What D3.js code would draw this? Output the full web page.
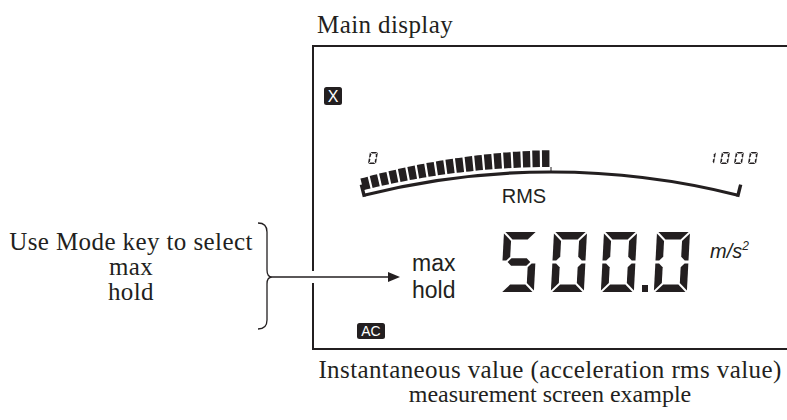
<!DOCTYPE html>
<html>
<head>
<meta charset="utf-8">
<script src="https://cdn.jsdelivr.net/npm/d3@7"></script>
<style>
  body { margin: 0; background: #fff; }
  .serif { font-family: "Liberation Serif", "Times New Roman", serif; fill: #231f20; }
  .sans { font-family: "Liberation Sans", Arial, sans-serif; fill: #231f20; }
</style>
</head>
<body>
<div id="chart"></div>
<script>
"use strict";

// values shown on the display
var barValue = 500;
var barDomain = [0, 1000];
var barStep = 25;                  // one lit segment per 25 units
var scaleLabels = ["0", "1000"];
var reading = "500.0";
var unitText = "m/s";
var unitPower = "2";
var modeLines = ["max", "hold"];
var noteLines = ["Use Mode key to select", "max", "hold"];
var captionLines = ["Instantaneous value (acceleration rms value)", "measurement screen example"];
var titleText = "Main display";
var badgeLabels = ["X", "AC"];

var width = 787,
    height = 420,
    ink = "#231f20";

var svg = d3.select("#chart")
            .append("svg")
            .attr("width", width)
            .attr("height", height)

// seven segment helpers
var segMap = {"0": "abcdef", "1": "bc", "2": "abged", "3": "abgcd", "4": "fgbc",
              "5": "afgcd", "6": "afgedc", "7": "abc", "8": "abcdefg", "9": "abcdfg"}

function segPoints(s, w, h, t, g) {
  var m = h / 2, p
  if (s == "a") p = [[g, 0], [w - g, 0], [w - g - t, t], [g + t, t]]
  if (s == "d") p = [[g + t, h - t], [w - g - t, h - t], [w - g, h], [g, h]]
  if (s == "g") p = [[t / 2 + g, m], [t + g, m - t / 2], [w - t - g, m - t / 2],
                     [w - t / 2 - g, m], [w - t - g, m + t / 2], [t + g, m + t / 2]]
  if (s == "f" || s == "b") p = [[0, g], [t, t + g], [t, m - t / 2 - g], [t / 2, m - g], [0, m - g]]
  if (s == "e" || s == "c") p = [[0, m + g], [t / 2, m + g], [t, m + t / 2 + g], [t, h - t - g], [0, h - g]]
  if (s == "b" || s == "c") p = p.map(function(q) { return [w - q[0], q[1]] })
  return p
}

function drawDigit(parent, ch, x, y, w, h, t, g, skew) {
  var d = parent.append("g")
      .attr("transform", "translate(" + x + "," + y + ") skewX(" + skew + ")")
  d.selectAll("polygon")
    .data(segMap[ch].split(""))
    .enter()
    .append("polygon")
    .attr("points", function(s) { return segPoints(s, w, h, t, g).join(" ") })
    .attr("fill", ink)
}

// title and display frame
svg.append("text")
   .attr("class", "serif")
   .attr("x", 317)
   .attr("y", 33)
   .style("font-size", "25px")
   .style("letter-spacing", "0.4px")
   .text(titleText)

svg.append("path")
   .attr("d", "M787,46H313V271M313,283V349H787")
   .attr("fill", "none")
   .attr("stroke", ink)
   .attr("stroke-width", 2)

// X and AC badges
var badges = [{label: badgeLabels[0], x: 324, y: 87, w: 18, h: 18, fs: 16},
              {label: badgeLabels[1], x: 357, y: 323, w: 28, h: 16, fs: 14}]
var badge = svg.selectAll(".badge")
    .data(badges)
    .enter()
    .append("g")
    .attr("class", "badge")
badge.append("rect")
    .attr("x", function(d) { return d.x })
    .attr("y", function(d) { return d.y })
    .attr("width", function(d) { return d.w })
    .attr("height", function(d) { return d.h })
    .attr("rx", 2.5)
    .attr("fill", ink)
badge.append("text")
    .attr("class", "sans")
    .attr("x", function(d) { return d.x + d.w / 2 })
    .attr("y", function(d) { return d.y + d.h / 2 + d.fs * 0.36 })
    .attr("text-anchor", "middle")
    .style("font-size", function(d) { return d.fs + "px" })
    .style("fill", "#fff")
    .text(function(d) { return d.label })

// curved bar graph
var R = 764,
    cx = 551,
    cy = 172 + R,
    maxAngle = Math.asin(187 / R)

var angle = d3.scaleLinear().domain(barDomain).range([-maxAngle, maxAngle])
var segHeight = d3.scaleLinear().domain(barDomain).range([12, 22])

var meter = svg.append("g").attr("transform", "translate(" + cx + "," + cy + ")")

var segData = d3.range(barDomain[0], barValue, barStep)
var segArc = d3.arc()
    .innerRadius(R + 5)
    .outerRadius(function(v) { return R + 5 + segHeight(v + barStep / 2) })
    .startAngle(function(v) { return angle(v) + 0.0008 })
    .endAngle(function(v) { return angle(v + barStep) - 0.0020 })

meter.selectAll(".seg")
    .data(segData)
    .enter()
    .append("path")
    .attr("class", "seg")
    .attr("d", segArc)
    .attr("fill", ink)

meter.append("path")
    .attr("d", d3.arc()({innerRadius: R - 1.6, outerRadius: R + 1.6,
                         startAngle: angle(barDomain[0]), endAngle: angle(barDomain[1])}))
    .attr("fill", ink)

function radial(v, r0, r1) {
  var a = angle(v)
  return "M" + (Math.sin(a) * r0) + "," + (-Math.cos(a) * r0) +
         "L" + (Math.sin(a) * r1) + "," + (-Math.cos(a) * r1)
}
meter.selectAll(".hook")
    .data(barDomain)
    .enter()
    .append("path")
    .attr("class", "hook")
    .attr("d", function(v) { return radial(v, R - 1.6, R + 11) })
    .attr("stroke", ink)
    .attr("stroke-width", 3.4)

meter.append("path")
    .attr("d", radial(barValue, R, R + 5))
    .attr("stroke", ink)
    .attr("stroke-width", 1)

// small scale digits
var labelX = [370, 708]
scaleLabels.forEach(function(lbl, i) {
  lbl.split("").forEach(function(ch, j) {
    drawDigit(svg, ch, labelX[i] + j * 14, 152, 8, 12, 1.6, 0.6, -10)
  })
})

svg.append("text")
   .attr("class", "sans")
   .attr("x", 524)
   .attr("y", 203)
   .attr("text-anchor", "middle")
   .style("font-size", "20px")
   .text("RMS")

// main reading
var cursor = 504
reading.split("").forEach(function(ch) {
  if (ch == ".") {
    svg.append("rect").attr("x", cursor - 12).attr("y", 285).attr("width", 6).attr("height", 7).attr("fill", ink)
    cursor += 3
  } else {
    drawDigit(svg, ch, cursor, 232, 33, 60, 7.5, 1.4, -3)
    cursor += 50
  }
})

svg.append("text")
   .attr("class", "sans")
   .attr("x", 710)
   .attr("y", 258)
   .style("font-size", "20px")
   .style("font-style", "italic")
   .text(unitText)
   .append("tspan")
   .attr("dy", -8)
   .style("font-size", "12px")
   .text(unitPower)

svg.selectAll(".mode")
   .data(modeLines)
   .enter()
   .append("text")
   .attr("class", "sans mode")
   .attr("x", 412)
   .attr("y", function(d, i) { return 271 + i * 27 })
   .style("font-size", "23px")
   .text(function(d) { return d })

// note with brace and arrow
svg.selectAll(".note")
   .data(noteLines)
   .enter()
   .append("text")
   .attr("class", "serif note")
   .attr("x", 131)
   .attr("y", function(d, i) { return 250 + i * 25 })
   .attr("text-anchor", "middle")
   .style("font-size", "25px")
   .style("letter-spacing", "0.4px")
   .text(function(d) { return d })

svg.append("path")
   .attr("d", "M258,223Q267,223 267,232V270Q267,277 272,277Q267,277 267,284V320Q267,329 258,329")
   .attr("fill", "none")
   .attr("stroke", ink)
   .attr("stroke-width", 1.3)

svg.append("line")
   .attr("x1", 272).attr("y1", 277)
   .attr("x2", 390).attr("y2", 277)
   .attr("stroke", ink)
   .attr("stroke-width", 1.5)
svg.append("path")
   .attr("d", "M388,272L400,277L388,282Z")
   .attr("fill", ink)

// caption
svg.selectAll(".caption")
   .data(captionLines)
   .enter()
   .append("text")
   .attr("class", "serif caption")
   .attr("x", 550)
   .attr("y", function(d, i) { return 378 + i * 24 })
   .attr("text-anchor", "middle")
   .style("font-size", function(d, i) { return i == 0 ? "25px" : "24px" })
   .style("letter-spacing", function(d, i) { return i == 0 ? "0.4px" : "0px" })
   .text(function(d) { return d })
</script>
</body>
</html>
